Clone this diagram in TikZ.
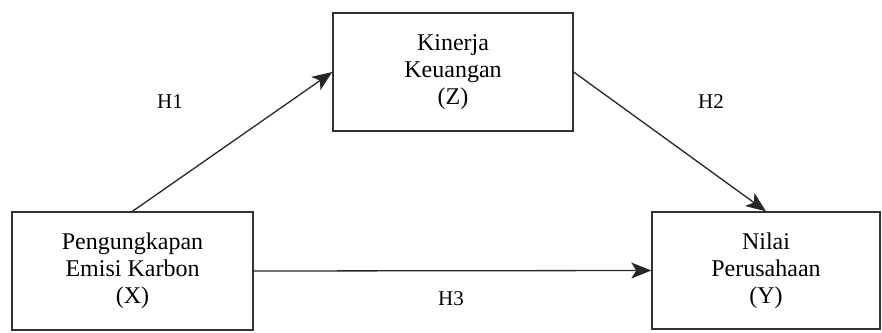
\documentclass[tikz,border=0pt]{standalone}
\usepackage{fontspec}
\setmainfont{Liberation Serif}
\usetikzlibrary{arrows.meta}
\tikzset{
% Boxes for the variables and the arrows between them
var box/.style={draw=black!80,line width=1.4pt,minimum width=240pt,minimum height=118pt,align=center,inner sep=0pt,font=\fontsize{24}{27}\selectfont},
hyp arrow/.style={draw=black!85,line width=1.3pt,-{Stealth[length=20pt,width=16pt,inset=5pt]}}
}

\begin{document}
\begin{tikzpicture}[x=1pt,y=-1pt,font=\fontsize{21}{27}\selectfont]
		\useasboundingbox (0,0) rectangle (882,332);
		% The variables
		\node(X)[var box,minimum width=241pt] at (132.5,271){Pengungkapan\\Emisi Karbon\\(X)};
		\node(Z)[var box] at (453,72){Kinerja\\Keuangan\\(Z)};
		\node(Y)[var box,minimum width=228pt,minimum height=117pt] at (766,270.5){Nilai\\Perusahaan\\(Y)};
		% The hypotheses
		\draw[hyp arrow](X.north)--(Z.west);
		\draw[hyp arrow](Z.east)--(Y.north);
		\draw[hyp arrow](X.east)--(Y.west);
		\node(H1) at (170,102){H1};
		\node(H2) at (711,102){H2};
		\node(H3) at (451,299){H3};
	\end{tikzpicture}
\end{document}
